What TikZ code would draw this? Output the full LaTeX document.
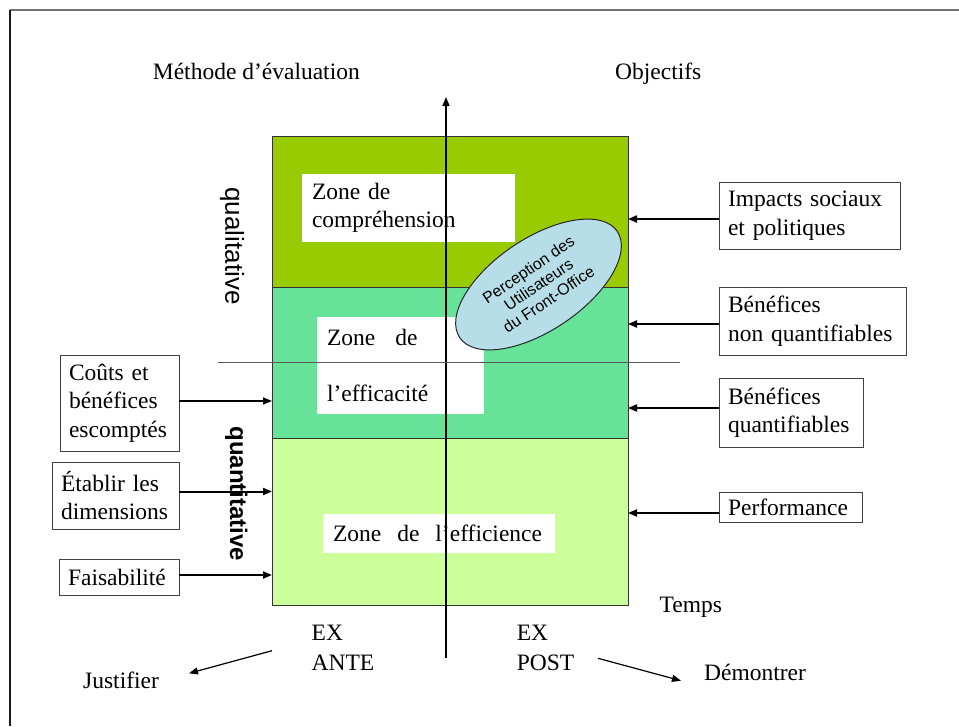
\documentclass[tikz,border=0pt]{standalone}
\usepackage{fontspec}
\setmainfont{Liberation Serif}
\newfontfamily\arialfont{Liberation Sans}
\usetikzlibrary{shapes.geometric,arrows.meta}

\definecolor{bandtop}{HTML}{99CC00}
\definecolor{bandmid}{HTML}{66E399}
\definecolor{bandlow}{HTML}{CCFF99}
\definecolor{ovalfill}{HTML}{B7DEE8}

\begin{document}
\begin{tikzpicture}[x=1pt,y=-1pt,
  every node/.style={font=\fontsize{23.5}{28.5}\selectfont, text=black},
  band/.style={draw=black!80, line width=1pt, inner sep=0pt, outer sep=0pt, anchor=north west},
  zonebox/.style={fill=white, anchor=north west, inner xsep=10pt, inner ysep=0pt, outer sep=0pt, align=left},
  labelbox/.style={draw=black!75, line width=1pt, fill=white, anchor=north west,
                   inner xsep=9pt, inner ysep=0pt, outer sep=0pt, align=left},
  feed/.style={-{Triangle[length=9pt,width=7pt]}, line width=2pt},
  thinarrow/.style={-{Triangle[length=9pt,width=7pt]}, line width=1.2pt},
  plain/.style={inner sep=0pt, anchor=base west},
  sidelabel/.style={inner sep=0pt, rotate=-90}
]
\useasboundingbox (0,0) rectangle (959,726);

% frame
\draw[black!55, line width=1.5pt] (10,10) -- (959,10);
\draw[black!90, line width=1.5pt] (10,10) -- (10,726);

% headings
\node[plain] (methode) at (152.7,79.3) {Méthode d’évaluation};
\node[plain] (objectifs) at (615,79.3) {Objectifs};

% three coloured zones
\node[band, fill=bandtop, minimum width=356, minimum height=151] (top) at (272,136) {};
\node[band, fill=bandmid, minimum width=356, minimum height=151] (mid) at (272,287) {};
\node[band, fill=bandlow, minimum width=356, minimum height=167] (low) at (272,438) {};

% zone titles
\node[zonebox, text width=193, minimum height=68] (zcomp) at (302,174) {Zone de\\compréhension};
\node[zonebox, text width=147, minimum height=97] (zeffic) at (317,317) {Zone\hspace{20pt}de\\[28pt]l’efficacité};
\node[zonebox, text width=212, minimum height=39] (zeffi) at (323,514) {Zone\hspace{16pt}de\hspace{16pt}l’efficience};

% user perception oval
\node[ellipse, draw=black!85, line width=1pt, fill=ovalfill, minimum width=190, minimum height=92,
      inner sep=0pt, rotate=34, align=center,
      font=\arialfont\fontsize{16}{18}\selectfont] (oval) at (538.5,284.5)
      {Perception des\\Utilisateurs\\du Front-Office};

% time axis and separator
\coordinate (axbot) at (446,658);
\coordinate (axtop) at (446,97);
\draw[-{Triangle[length=9pt,width=7pt]}, line width=1.5pt] (axbot) -- (axtop);
\coordinate (sepl) at (218,362.7);
\coordinate (sepr) at (680,362.7);
\draw[black!65, line width=1pt] (sepl) -- (sepr);

% method labels
\node[sidelabel, font=\arialfont\fontsize{26}{26}\selectfont] (qual) at (232,246) {qualitative};
\node[sidelabel, font=\arialfont\bfseries\fontsize{24}{24}\selectfont] (quant) at (236.4,493.7) {quantitative};

% left inputs
\node[labelbox, text width=101, minimum height=96] (couts) at (60,355) {Coûts et\\bénéfices\\escomptés};
\node[labelbox, text width=109, minimum height=67] (etablir) at (52,462) {Établir les\\dimensions};
\node[labelbox, text width=102, minimum height=36] (faisa) at (59,559) {Faisabilité};

\draw[thinarrow, line width=1.5pt] ([yshift=2pt]couts.east) -- ([yshift=2pt]couts.east -| mid.west);
\draw[feed] ([yshift=4pt]etablir.east) -- ([yshift=4pt]etablir.east -| low.west);
\draw[feed] ([yshift=2pt]faisa.east) -- ([yshift=2pt]faisa.east -| low.west);

% right objectives
\node[labelbox, text width=163, minimum height=67] (impacts) at (719,182) {Impacts sociaux\\et politiques};
\node[labelbox, text width=169, minimum height=68] (nonq) at (719,287) {Bénéfices\\non quantifiables};
\node[labelbox, text width=126, minimum height=69] (quantb) at (719,378) {Bénéfices\\quantifiables};
\node[labelbox, text width=125, minimum height=30] (perf) at (719,492) {Performance};

\draw[feed] ([yshift=-3.5pt]impacts.west) -- ([yshift=-3.5pt]impacts.west -| top.east);
\draw[feed] ([yshift=-3pt]nonq.west) -- ([yshift=-3pt]nonq.west -| mid.east);
\draw[feed] ([yshift=4.5pt]quantb.west) -- ([yshift=4.5pt]quantb.west -| mid.east);
\draw[feed] ([yshift=-6pt]perf.west) -- ([yshift=-6pt]perf.west -| low.east);

% time labels
\node[plain] (temps) at (659.5,612.7) {Temps};
\node[plain] (exa) at (311.5,640.7) {EX};
\node[plain] (ante) at (311.5,670) {ANTE};
\node[plain] (exp) at (516.6,640.7) {EX};
\node[plain] (post) at (516.6,670) {POST};
\node[plain] (justifier) at (83,688) {Justifier};
\node[plain] (demontrer) at (704,680.7) {Démontrer};

\coordinate (jfrom) at (272,650.7);
\coordinate (jto) at (189,673.3);
\draw[thinarrow] (jfrom) -- (jto);
\coordinate (dfrom) at (598,658.3);
\coordinate (dto) at (681,680.7);
\draw[thinarrow] (dfrom) -- (dto);
\end{tikzpicture}
\end{document}
